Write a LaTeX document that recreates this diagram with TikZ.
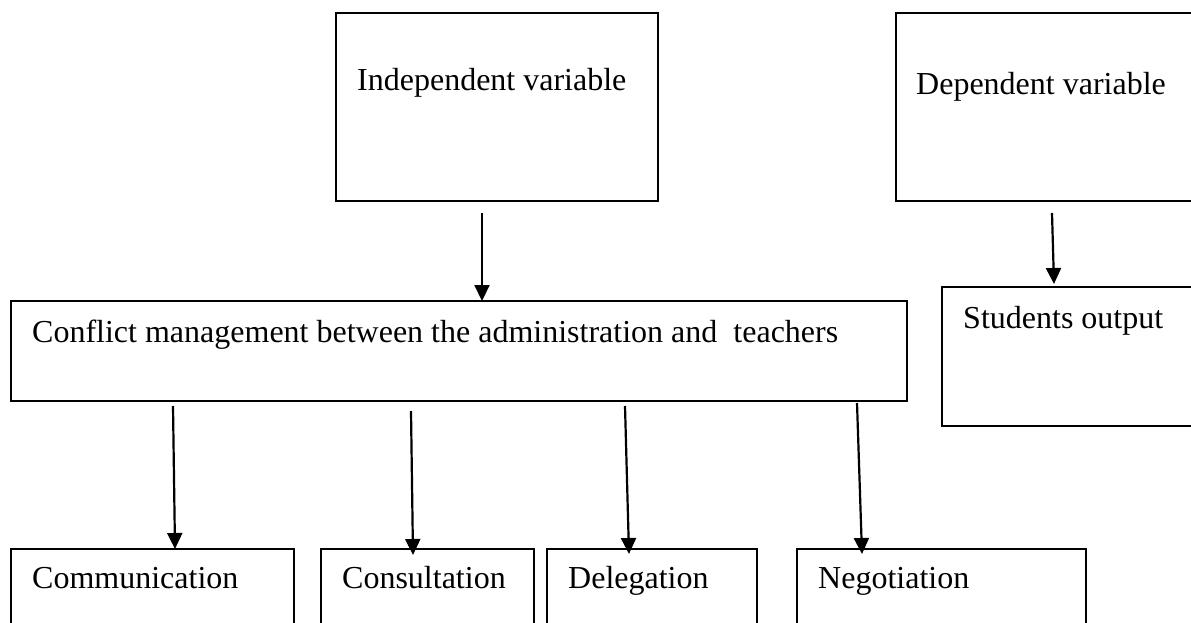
\documentclass[tikz,border=0pt]{standalone}
\usepackage{fontspec}
\setmainfont{Liberation Serif}
\usetikzlibrary{arrows.meta}
\begin{document}
\begin{tikzpicture}[x=1pt,y=-1pt,
  box/.style={draw=black,line width=1.8pt,inner sep=0pt,outer sep=0pt},
  lbl/.style={anchor=base west,inner sep=0pt,font=\fontsize{32}{36}\selectfont},
  arr/.style={line width=2.2pt,-{Triangle[length=16pt,width=15pt]}}]
\useasboundingbox (0,0) rectangle (1191,623);
\clip (0,0) rectangle (1191,623);
\fill[white] (0,0) rectangle (1191,623);
% boxes
\node[box,minimum width=322pt,minimum height=188pt] (ind)  at (497,107) {};
\node[box,minimum width=330pt,minimum height=188pt] (dep)  at (1061,107) {};
\node[box,minimum width=896pt,minimum height=100pt] (conf) at (459,351) {};
\node[box,minimum width=278pt,minimum height=139pt] (stu)  at (1081,356.5) {};
\node[box,minimum width=283pt,minimum height=101pt] (comm) at (152.5,599.5) {};
\node[box,minimum width=213pt,minimum height=101pt] (cons) at (427.5,599.5) {};
\node[box,minimum width=210pt,minimum height=101pt] (dele) at (652,599.5) {};
\node[box,minimum width=289pt,minimum height=101pt] (nego) at (941.5,599.5) {};
% labels
\node[lbl] (indT)  at (357,91)  {Independent variable};
\node[lbl] (depT)  at (916,95)  {Dependent variable};
\node[lbl] (confT) at (32,342)  {Conflict management between the administration and\ \ teachers};
\node[lbl] (stuT)  at (963,328) {Students output};
\node[lbl] (commT) at (32,588)  {Communication};
\node[lbl] (consT) at (342,588) {Consultation};
\node[lbl] (deleT) at (568,588) {Delegation};
\node[lbl] (negoT) at (818,588) {Negotiation};
% arrows
\draw[arr] ([xshift=-15pt,yshift=-12pt]ind.south) -- ([xshift=23pt]conf.north);
\draw[arr] ([xshift=-9pt,yshift=-12pt]dep.south) -- ([xshift=-27pt,yshift=3pt]stu.north);
\draw[arr] ([xshift=-286pt,yshift=-5pt]conf.south) -- ([xshift=22.5pt]comm.north);
\draw[arr] ([xshift=-48pt,yshift=-10pt]conf.south) -- ([xshift=-14.5pt,yshift=-6pt]cons.north);
\draw[arr] ([xshift=166pt,yshift=-5pt]conf.south) -- ([xshift=-23pt,yshift=-5pt]dele.north);
\draw[arr] ([xshift=398pt,yshift=-2pt]conf.south) -- ([xshift=-79.5pt,yshift=-5pt]nego.north);
\end{tikzpicture}
\end{document}
